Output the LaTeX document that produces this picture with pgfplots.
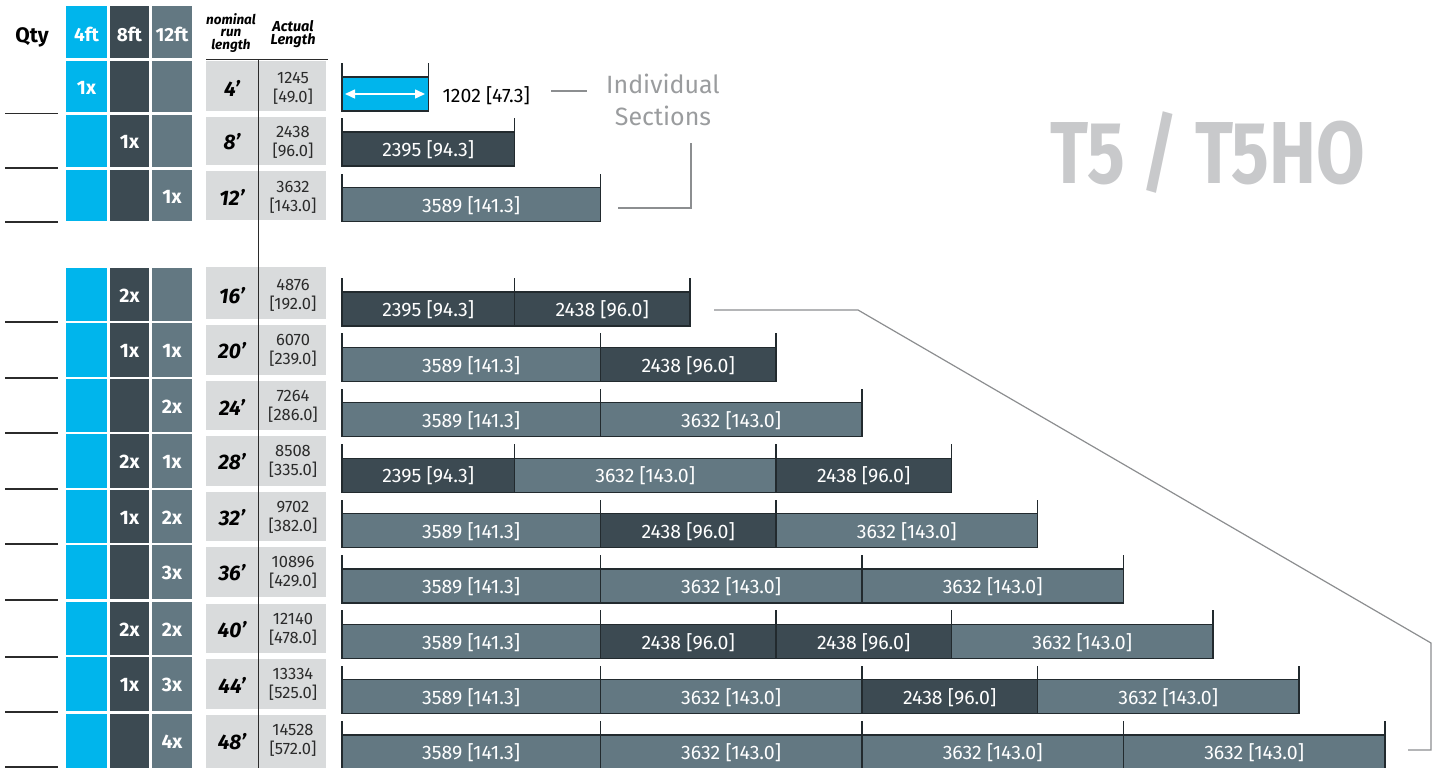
\documentclass[border=0pt]{standalone}
\usepackage{fontspec}
\setmainfont{Fira Sans}
\usepackage{pgfplots}
\pgfplotsset{compat=1.18}
\usepackage{pgfplotstable}
\usetikzlibrary{arrows.meta}

\definecolor{cy}{HTML}{00B5EC}
\definecolor{dk}{HTML}{3C4A52}
\definecolor{md}{HTML}{637882}
\definecolor{lg}{HTML}{D9DBDC}
\definecolor{tg}{HTML}{C8C9CB}
\definecolor{ig}{HTML}{9A9C9E}
\definecolor{bd}{HTML}{222A2E}
\definecolor{ln}{HTML}{8C8E90}
\definecolor{tx}{HTML}{2B2B2B}

\newcommand\fsz[2]{\fontsize{#1}{#2}\selectfont}

% section lengths in mm, stacked per run (y = bar centre, px from top)
\pgfplotstableread{
y     c1   d1   m1   d2   m2   d3   m3   d4   m4
94    1202 0    0    0    0    0    0    0    0
149   0    2395 0    0    0    0    0    0    0
204.5 0    0    3589 0    0    0    0    0    0
309   0    2395 0    2438 0    0    0    0    0
364.4 0    0    3589 2438 0    0    0    0    0
419.8 0    0    3589 0    3632 0    0    0    0
475.1 0    2395 0    0    3632 2438 0    0    0
530.5 0    0    3589 2438 0    0    3632 0    0
585.9 0    0    3589 0    3632 0    3632 0    0
641.3 0    0    3589 2438 0    2438 0    0    3632
696.6 0    0    3589 0    3632 2438 0    0    3632
752   0    0    3589 0    3632 0    3632 0    3632
}\segs

\pgfplotstableread{
x y
0 94
1202 94
0 149
2395 149
0 204.5
3589 204.5
0 309
2395 309
4833 309
0 364.4
3589 364.4
6027 364.4
0 419.8
3589 419.8
7221 419.8
0 475.1
2395 475.1
6027 475.1
8465 475.1
0 530.5
3589 530.5
6027 530.5
9659 530.5
0 585.9
3589 585.9
7221 585.9
10853 585.9
0 641.3
3589 641.3
6027 641.3
8465 641.3
12097 641.3
0 696.6
3589 696.6
7221 696.6
9659 696.6
13291 696.6
0 752
3589 752
7221 752
10853 752
14485 752
}\ticks

\pgfplotstableread[col sep=comma]{
x,y,lab
1197.5,149,2395 [94.3]
1794.5,204.5,3589 [141.3]
1197.5,309,2395 [94.3]
3614,309,2438 [96.0]
1794.5,364.4,3589 [141.3]
4808,364.4,2438 [96.0]
1794.5,419.8,3589 [141.3]
5405,419.8,3632 [143.0]
1197.5,475.1,2395 [94.3]
4211,475.1,3632 [143.0]
7246,475.1,2438 [96.0]
1794.5,530.5,3589 [141.3]
4808,530.5,2438 [96.0]
7843,530.5,3632 [143.0]
1794.5,585.9,3589 [141.3]
5405,585.9,3632 [143.0]
9037,585.9,3632 [143.0]
1794.5,641.3,3589 [141.3]
4808,641.3,2438 [96.0]
7246,641.3,2438 [96.0]
10281,641.3,3632 [143.0]
1794.5,696.6,3589 [141.3]
5405,696.6,3632 [143.0]
8440,696.6,2438 [96.0]
11475,696.6,3632 [143.0]
1794.5,752,3589 [141.3]
5405,752,3632 [143.0]
9037,752,3632 [143.0]
12669,752,3632 [143.0]
}\labs

\pgfdeclareplotmark{vtick}{%
  \pgfpathmoveto{\pgfqpoint{0pt}{17pt}}%
  \pgfpathlineto{\pgfqpoint{0pt}{31pt}}%
  \pgfusepathqstroke}

\pgfplotsset{base/.style={at={(0pt,0pt)}, anchor=south west, scale only axis,
  width=1440pt, height=768pt, ymin=0, ymax=768, y dir=reverse, hide axis, clip=false}}

\begin{document}
\begin{tikzpicture}
\useasboundingbox (0,0) rectangle (1440pt,768pt);
% ---------- layer in pixel units: table and notes
\begin{axis}[base, xmin=0, xmax=1440]
\fill[cy] (axis cs:66,6) rectangle (axis cs:107,58);
\fill[dk] (axis cs:110,6) rectangle (axis cs:149,58);
\fill[md] (axis cs:152,6) rectangle (axis cs:192,58);
\foreach \t/\b/\gt/\gb/\u in {61/112/61/111/113.5,115/167/117/165/168,170/221/171/220/222,
  268/321/267/319/322,323/377/325/375/378,379/432/381/430/433,434/488/436/486/489,
  490/543/492/541/544,545/599/547/597/600,602/655/604/653/657,657/711/659/709/712,
  714/768/715/768/767}{%
  \edef\tmp{%
  \noexpand\fill[cy] (axis cs:66,\t) rectangle (axis cs:107,\b);
  \noexpand\fill[dk] (axis cs:110,\t) rectangle (axis cs:149,\b);
  \noexpand\fill[md] (axis cs:152,\t) rectangle (axis cs:192,\b);
  \noexpand\fill[lg] (axis cs:206,\gt) rectangle (axis cs:326,\gb);
  \noexpand\draw[tx, line width=1.3pt] (axis cs:5,\u) -- (axis cs:58,\u);
  }\tmp}
\draw[tx, line width=1.5pt] (axis cs:206,59.5) -- (axis cs:328,59.5);
\draw[tx, line width=1.5pt] (axis cs:258.5,59.5) -- (axis cs:258.5,768);

\node[font=\bfseries\fsz{21}{21}] at (axis cs:32,37) {Qty};
\node[white, font=\bfseries\fsz{19}{19}] at (axis cs:86.5,34) {4ft};
\node[white, font=\bfseries\fsz{19}{19}] at (axis cs:129.5,34) {8ft};
\node[white, font=\bfseries\fsz{19}{19}] at (axis cs:172,34) {12ft};
\node[align=center, font=\bfseries\itshape\fsz{13.5}{12.8}] at (axis cs:231,33) {nominal\\run\\length};
\node[align=center, font=\bfseries\itshape\fsz{14.5}{13.5}] at (axis cs:293,34) {Actual\\Length};

\tikzset{q/.style={white, font=\bfseries\fsz{19.5}{19.5}},
  nm/.style={font=\bfseries\itshape\fsz{21}{21}},
  ac/.style={tx, align=center, font=\fsz{16.5}{19}}}
% quantities
\node[q] at (axis cs:86.5,88) {1x};
\node[q] at (axis cs:129.5,142) {1x};
\node[q] at (axis cs:172,197) {1x};
\node[q] at (axis cs:129.5,296) {2x};
\node[q] at (axis cs:129.5,351) {1x};
\node[q] at (axis cs:172,351) {1x};
\node[q] at (axis cs:172,407) {2x};
\node[q] at (axis cs:129.5,462) {2x};
\node[q] at (axis cs:172,462) {1x};
\node[q] at (axis cs:129.5,518) {1x};
\node[q] at (axis cs:172,518) {2x};
\node[q] at (axis cs:172,573) {3x};
\node[q] at (axis cs:129.5,630) {2x};
\node[q] at (axis cs:172,630) {2x};
\node[q] at (axis cs:129.5,685) {1x};
\node[q] at (axis cs:172,685) {3x};
\node[q] at (axis cs:172,742) {4x};
% nominal lengths
\node[nm] at (axis cs:232,88) {4’};
\node[nm] at (axis cs:232,142) {8’};
\node[nm] at (axis cs:232,197) {12’};
\node[nm] at (axis cs:232,296) {16’};
\node[nm] at (axis cs:232,351) {20’};
\node[nm] at (axis cs:232,407) {24’};
\node[nm] at (axis cs:232,462) {28’};
\node[nm] at (axis cs:232,518) {32’};
\node[nm] at (axis cs:232,573) {36’};
\node[nm] at (axis cs:232,630) {40’};
\node[nm] at (axis cs:232,685) {44’};
\node[nm] at (axis cs:232,742) {48’};
% actual lengths
\node[ac] at (axis cs:293,88) {1245\\{[49.0]}};
\node[ac] at (axis cs:293,142) {2438\\{[96.0]}};
\node[ac] at (axis cs:293,197) {3632\\{[143.0]}};
\node[ac] at (axis cs:293,295) {4876\\{[192.0]}};
\node[ac] at (axis cs:293,350) {6070\\{[239.0]}};
\node[ac] at (axis cs:293,406) {7264\\{[286.0]}};
\node[ac] at (axis cs:293,461) {8508\\{[335.0]}};
\node[ac] at (axis cs:293,517) {9702\\{[382.0]}};
\node[ac] at (axis cs:293,572) {10896\\{[429.0]}};
\node[ac] at (axis cs:293,629) {12140\\{[478.0]}};
\node[ac] at (axis cs:293,684) {13334\\{[525.0]}};
\node[ac] at (axis cs:293,740) {14528\\{[572.0]}};

% notes
\node[anchor=west, font=\fsz{19.5}{19.5}] at (axis cs:439,96) {1202 [47.3]};
\node[ig, align=center, font=\fsz{25}{32}] at (axis cs:663,100) {Individual\\Sections};
\node[tg, font=\bfseries\fsz{88}{88}] at (axis cs:1208,153) {\scalebox{0.8}[1]{T5 / T5HO}};
\draw[ln, line width=1.2pt] (axis cs:551,91) -- (axis cs:587,91);
\draw[ln, line width=1.2pt] (axis cs:618,208) -- (axis cs:691,208) -- (axis cs:691,143);
\draw[ln, line width=1.2pt] (axis cs:714,310) -- (axis cs:858,310) -- (axis cs:1431,643) -- (axis cs:1431,750) -- (axis cs:1408,750);
\end{axis}

% ---------- bars in mm: 0 mm at x = 342 px, 0.072 px per mm
\begin{axis}[base, xmin=-4750, xmax=15250, xbar stacked, bar width=34pt]
\addplot[fill=cy, draw=bd, line width=1.2pt] table[x=c1, y=y] \segs;
\addplot[fill=dk, draw=bd, line width=1.2pt] table[x=d1, y=y] \segs;
\addplot[fill=md, draw=bd, line width=1.2pt] table[x=m1, y=y] \segs;
\addplot[fill=dk, draw=bd, line width=1.2pt] table[x=d2, y=y] \segs;
\addplot[fill=md, draw=bd, line width=1.2pt] table[x=m2, y=y] \segs;
\addplot[fill=dk, draw=bd, line width=1.2pt] table[x=d3, y=y] \segs;
\addplot[fill=md, draw=bd, line width=1.2pt] table[x=m3, y=y] \segs;
\addplot[fill=dk, draw=bd, line width=1.2pt] table[x=d4, y=y] \segs;
\addplot[fill=md, draw=bd, line width=1.2pt] table[x=m4, y=y] \segs;
\end{axis}

% ---------- section ticks and labels
\begin{axis}[base, xmin=-4750, xmax=15250]
\addplot[only marks, mark=vtick, mark options={draw=bd, line width=1.3pt}] table[x=x, y=y] \ticks;
\addplot[draw=none, mark=none, nodes near coords, point meta=explicit symbolic,
  every node near coord/.append style={anchor=center, text=white, font=\fsz{19.5}{19.5}, yshift=-1pt}]
  table[x=x, y=y, meta=lab] \labs;
\end{axis}

% arrow in the 4 ft section
\begin{axis}[base, xmin=0, xmax=1440]
\draw[white, line width=1.5pt, {Triangle[width=9pt,length=10pt]}-{Triangle[width=9pt,length=10pt]}] (axis cs:345,94) -- (axis cs:425,94);
\end{axis}
\end{tikzpicture}
\end{document}
